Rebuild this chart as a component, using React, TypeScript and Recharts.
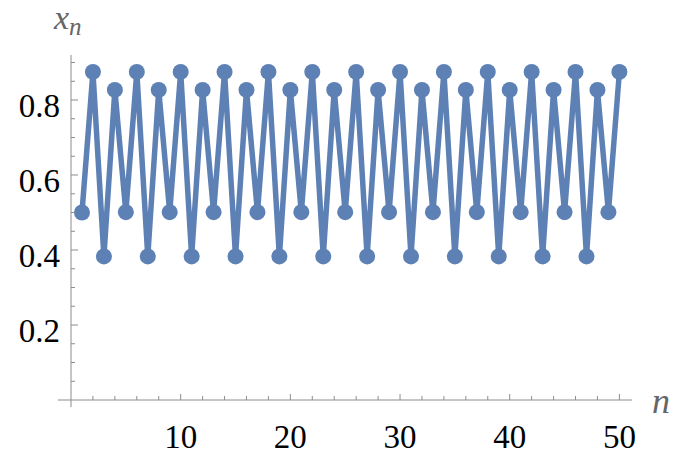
import React from 'react';
import { LineChart, Line, XAxis, YAxis, ReferenceLine } from 'recharts';

// orbit of the logistic map, settled on its 4-cycle
const steps = [
  1, 2, 3, 4, 5, 6, 7, 8, 9, 10, 11, 12, 13, 14, 15, 16, 17, 18, 19, 20, 21, 22, 23, 24, 25,
  26, 27, 28, 29, 30, 31, 32, 33, 34, 35, 36, 37, 38, 39, 40, 41, 42, 43, 44, 45, 46, 47, 48, 49, 50,
];
const orbit = [
  0.5, 0.875, 0.3828, 0.8269, 0.5009, 0.875, 0.3828, 0.8269, 0.5009, 0.875,
  0.3828, 0.8269, 0.5009, 0.875, 0.3828, 0.8269, 0.5009, 0.875, 0.3828, 0.8269,
  0.5009, 0.875, 0.3828, 0.8269, 0.5009, 0.875, 0.3828, 0.8269, 0.5009, 0.875,
  0.3828, 0.8269, 0.5009, 0.875, 0.3828, 0.8269, 0.5009, 0.875, 0.3828, 0.8269,
  0.5009, 0.875, 0.3828, 0.8269, 0.5009, 0.875, 0.3828, 0.8269, 0.5009, 0.875,
];

const xTicks = [2, 4, 6, 8, 10, 12, 14, 16, 18, 20, 22, 24, 26, 28, 30, 32, 34, 36, 38, 40, 42, 44, 46, 48, 50];
const xLabels = [10, 20, 30, 40, 50];
const yTicks = [0.05, 0.1, 0.15, 0.2, 0.25, 0.3, 0.35, 0.4, 0.45, 0.5, 0.55, 0.6, 0.65, 0.7, 0.75, 0.8, 0.85, 0.9];
const yLabels = [0.2, 0.4, 0.6, 0.8];

const data = steps.map((n, i) => ({ n, x: orbit[i] }));

const BLUE = '#5e81b5';
const AXIS = '#8c8c8c';
const serif: React.CSSProperties = { fontFamily: '"Liberation Serif", serif' };

// the axes sit flush against the plot box; ticks point inwards
const PLOT_LEFT = 71;
const PLOT_BOTTOM = 400;

const renderXTick = (props: any) => {
  const { x, payload } = props;
  const major = xLabels.includes(payload.value);
  const y = PLOT_BOTTOM;
  return (
    <g key={`xt-${payload.value}`}>
      <line x1={x} x2={x} y1={y} y2={y - (major ? 6 : 4)} stroke={AXIS} strokeWidth={1} />
      {major && (
        <text x={x} y={y + 48} textAnchor="middle" style={serif} fontSize={33} fill="#000">
          {payload.value}
        </text>
      )}
    </g>
  );
};

const renderYTick = (props: any) => {
  const { y, payload } = props;
  const major = yLabels.some((v) => Math.abs(v - payload.value) < 1e-6);
  const x = PLOT_LEFT;
  return (
    <g key={`yt-${payload.value}`}>
      <line x1={x} x2={x + (major ? 7 : 4)} y1={y} y2={y} stroke={AXIS} strokeWidth={1} />
      {major && (
        <text x={x - 11} y={y + 17} textAnchor="end" style={serif} fontSize={33} fill="#000">
          {payload.value.toFixed(1)}
        </text>
      )}
    </g>
  );
};

export default function App() {
  return (
    <div style={{ position: 'absolute', left: 0, top: 0, width: 675, height: 455, background: '#fff' }}>
      <LineChart width={675} height={455} data={data} margin={{ top: 55, right: 43, bottom: 25, left: 41 }}>
        <XAxis
          dataKey="n"
          type="number"
          domain={[0, 51.15]}
          ticks={xTicks}
          interval={0}
          height={30}
          axisLine={false}
          tickLine={false}
          tick={renderXTick}
        />
        <YAxis
          type="number"
          domain={[0, 0.92]}
          ticks={yTicks}
          interval={0}
          width={30}
          axisLine={false}
          tickLine={false}
          tick={renderYTick}
        />
        <ReferenceLine
          segment={[{ x: -1.2, y: 0 }, { x: 51.15, y: 0 }]}
          stroke={AXIS}
          strokeWidth={1}
          ifOverflow="visible"
        />
        <ReferenceLine
          segment={[{ x: 0, y: -0.019 }, { x: 0, y: 0.92 }]}
          stroke={AXIS}
          strokeWidth={1}
          ifOverflow="visible"
        />
        <Line
          type="linear"
          dataKey="x"
          stroke={BLUE}
          strokeWidth={5.5}
          dot={{ r: 8, fill: BLUE, stroke: 'none' }}
          activeDot={false}
          isAnimationActive={false}
        />
      </LineChart>
      <svg width={675} height={455} style={{ position: 'absolute', left: 0, top: 0, pointerEvents: 'none' }}>
        <text x={54} y={29} style={serif} fontStyle="italic" fontSize={34} fill="#666">
          x
          <tspan fontSize={25} dy={6}>n</tspan>
        </text>
        <text x={652} y={413} style={serif} fontStyle="italic" fontSize={36} fill="#666">
          n
        </text>
      </svg>
    </div>
  );
}
